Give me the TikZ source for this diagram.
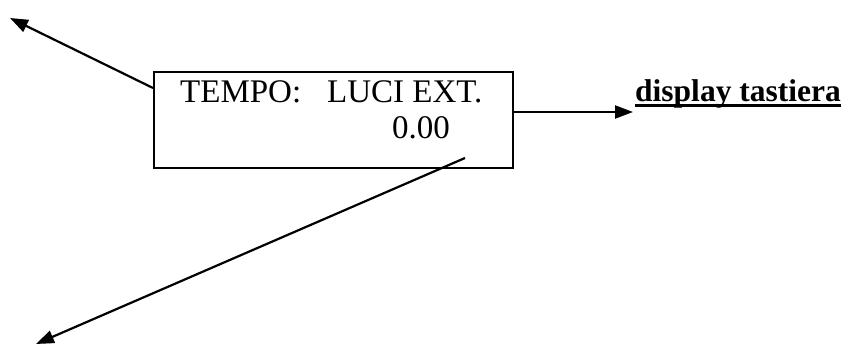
\documentclass[tikz,border=0pt]{standalone}
\usepackage{fontspec}
\setmainfont{Liberation Serif}
\usetikzlibrary{arrows.meta}
\begin{document}
\begin{tikzpicture}[x=1pt,y=-1pt,
  conn/.style={line width=2.2pt,-{Triangle[length=18pt,width=13pt]}},
  txt/.style={inner sep=0pt,anchor=base west,font=\fontsize{33}{33}\selectfont},
  framebox/.style={draw,line width=2.2pt,minimum width=359pt,minimum height=96pt,inner sep=0pt,anchor=north west}]
\useasboundingbox (0,0) rectangle (845,347);
\node[framebox] (box) at (153,71) {};
\node[txt] (tempo) at (180,103) {TEMPO:};
\node[txt] (luci) at (327,103) {LUCI EXT.};
\node[txt] (val) at (392,139) {0.00};
\node[txt,font=\fontsize{31.5}{33}\selectfont\bfseries] (disp) at (635,102) {display tastiera};
\draw[line width=3.5pt] ([yshift=-3.5pt]disp.base west) -- ([yshift=-3.5pt]disp.base east);
\coordinate (lstart) at (153,88);
\coordinate (ltip) at (10,18);
\coordinate (rstart) at (512,112);
\coordinate (rtip) at (633,112);
\coordinate (bstart) at (465,158);
\coordinate (btip) at (36,344);
\draw[conn] (lstart) -- (ltip);
\draw[conn] (rstart) -- (rtip);
\draw[conn] (bstart) -- (btip);
\end{tikzpicture}
\end{document}
